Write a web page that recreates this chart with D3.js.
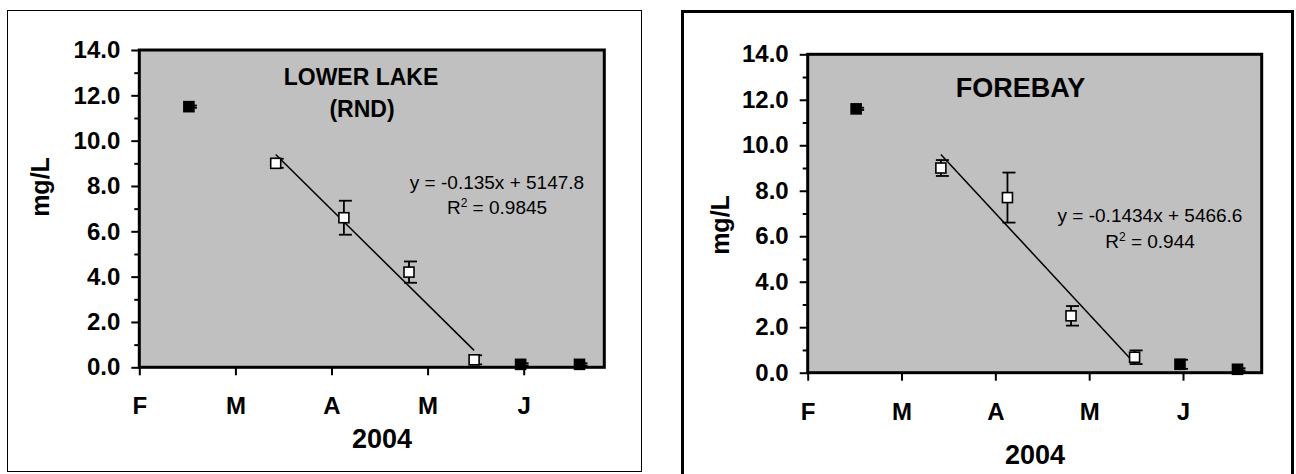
<!DOCTYPE html>
<html>
<head>
<meta charset="utf-8">
<script src="https://cdn.jsdelivr.net/npm/d3@7"></script>
<style>
  body { margin: 0; background: #fff; }
  svg { display: block; }
  text { font-family: Arial, "Liberation Sans", sans-serif; fill: #000; }
</style>
</head>
<body>
<svg id="chart" width="1296" height="474"></svg>
<script>
// Sampling dates (2004)
const sampleDates = ["2004-02-17", "2004-03-16", "2004-04-07", "2004-04-28", "2004-05-19", "2004-06-03", "2004-06-22"];
// Concentrations, mg/L, and their error-bar half widths
const lowerLakeValues = [11.5, 9.0, 6.6, 4.2, 0.33, 0.13, 0.13];
const lowerLakeErrors = [0.05, 0.2, 0.75, 0.47, 0.2, 0.05, 0.05];
const forebayValues = [11.6, 9.0, 7.7, 2.5, 0.68, 0.37, 0.15];
const forebayErrors = [0.05, 0.35, 1.1, 0.43, 0.3, 0.2, 0.05];
// Which samples belong to the fitted decline (open markers)
const inTrend = [false, true, true, true, true, false, false];
// Fitted slopes, mg/L per day
const lowerLakeSlope = -0.135;
const forebaySlope = -0.1434;
const lowerLakeEquation = ["y = -0.135x + 5147.8", "0.9845"];
const forebayEquation = ["y = -0.1434x + 5466.6", "0.944"];

// Axis definitions
const axisRange = ["2004-02-01", "2004-06-30"];
const monthTicks = ["2004-02-01", "2004-03-03", "2004-04-03", "2004-05-04", "2004-06-04"];
const monthLabels = ["F", "M", "A", "M", "J"];
const yTicks = [0, 2, 4, 6, 8, 10, 12, 14];
const yMinorTicks = [1, 3, 5, 7, 9, 11, 13];
const yAxisTitle = "mg/L";
const xAxisTitle = "2004";

const parse = d3.utcParse("%Y-%m-%d");
const svg = d3.select("#chart");
const FONT = "Arial, 'Liberation Sans', sans-serif";

function drawPanel(cfg) {
  const g = svg.append("g");

  // outer chart frame
  g.append("rect")
    .attr("x", cfg.frame.x).attr("y", cfg.frame.y)
    .attr("width", cfg.frame.w).attr("height", cfg.frame.h)
    .attr("fill", "#fff").attr("stroke", "#000")
    .attr("stroke-width", cfg.frame.sw);

  const p = cfg.plot;
  const x = d3.scaleUtc().domain(axisRange.map(parse)).range([p.l, p.r]);
  const y = d3.scaleLinear().domain([0, 14]).range([p.b, p.t]);

  // plot area
  g.append("rect")
    .attr("x", p.l).attr("y", p.t)
    .attr("width", p.r - p.l).attr("height", p.b - p.t)
    .attr("fill", "#c0c0c0");

  // y axis: major ticks with labels, minor ticks
  const yAxis = g.append("g").attr("transform", `translate(${p.l},0)`)
    .call(d3.axisLeft(y).tickValues(yTicks).tickSize(8).tickPadding(11)
      .tickFormat(d3.format(".1f")));
  yAxis.select(".domain").remove();
  yAxis.selectAll("line").attr("stroke", "#000").attr("stroke-width", 2);
  yAxis.selectAll("text")
    .attr("font-family", FONT)
    .attr("font-size", 24).attr("font-weight", "bold").attr("fill", "#000");

  const yMinor = g.append("g").attr("transform", `translate(${p.l},0)`)
    .call(d3.axisLeft(y).tickValues(yMinorTicks).tickSize(5).tickFormat(""));
  yMinor.select(".domain").remove();
  yMinor.selectAll("line").attr("stroke", "#000").attr("stroke-width", 2);

  // x axis: month ticks
  const xAxis = g.append("g").attr("transform", `translate(0,${p.b})`)
    .call(d3.axisBottom(x).tickValues(monthTicks.map(parse)).tickSize(8)
      .tickPadding(0).tickFormat((d, i) => monthLabels[i]));
  xAxis.select(".domain").remove();
  xAxis.selectAll("line").attr("stroke", "#000").attr("stroke-width", 2);
  xAxis.selectAll("text")
    .attr("font-family", FONT)
    .attr("font-size", 24).attr("font-weight", "bold").attr("fill", "#000")
    .attr("dy", null).attr("y", 47);

  // plot area border
  g.append("rect")
    .attr("x", p.l).attr("y", p.t)
    .attr("width", p.r - p.l).attr("height", p.b - p.t)
    .attr("fill", "none").attr("stroke", "#000").attr("stroke-width", 3);

  // titles
  g.append("text")
    .attr("transform", `translate(${cfg.yTitle.x},${cfg.yTitle.y}) rotate(-90)`)
    .attr("text-anchor", "middle").attr("dy", "0.35em")
    .attr("font-size", 25).attr("font-weight", "bold").text(yAxisTitle);
  g.append("text")
    .attr("x", cfg.xTitle.x).attr("y", cfg.xTitle.y)
    .attr("text-anchor", "middle")
    .attr("font-size", 27).attr("font-weight", "bold").text(xAxisTitle);
  cfg.title.forEach(t => {
    g.append("text").attr("x", t.x).attr("y", t.y)
      .attr("text-anchor", "middle")
      .attr("font-size", t.size).attr("font-weight", "bold").text(t.text);
  });

  // trend line: stated slope through the centroid of the fitted samples
  const dates = sampleDates.map(parse);
  const day = d => (d - dates[0]) / 864e5;
  const trendIdx = inTrend.map((v, i) => v ? i : -1).filter(i => i >= 0);
  const mx = d3.mean(trendIdx, i => day(dates[i]));
  const my = d3.mean(trendIdx, i => cfg.values[i]);
  const trendAt = d => my + cfg.slope * (day(d) - mx);
  const d0 = dates[trendIdx[0]], d1 = dates[trendIdx[trendIdx.length - 1]];
  g.append("line")
    .attr("x1", x(d0)).attr("y1", y(trendAt(d0)))
    .attr("x2", x(d1)).attr("y2", y(trendAt(d1)))
    .attr("stroke", "#000").attr("stroke-width", 1.5);

  // error bars
  const eb = g.append("g").attr("stroke", "#000").attr("stroke-width", 1.8);
  dates.forEach((d, i) => {
    const cx = x(d), v = cfg.values[i], e = cfg.errors[i];
    eb.append("line").attr("x1", cx).attr("x2", cx)
      .attr("y1", y(v + e)).attr("y2", y(v - e));
    [v + e, v - e].forEach(c => {
      eb.append("line").attr("x1", cx - 5).attr("x2", cx + 8)
        .attr("y1", y(c)).attr("y2", y(c));
    });
  });

  // markers
  const s = 10;
  g.selectAll("rect.marker").data(dates).join("rect")
    .attr("class", "marker")
    .attr("x", d => x(d) - s / 2)
    .attr("y", (d, i) => y(cfg.values[i]) - s / 2)
    .attr("width", s).attr("height", s)
    .attr("fill", (d, i) => inTrend[i] ? "#fff" : "#000")
    .attr("stroke", "#000").attr("stroke-width", 1.6);

  // regression equation
  g.append("text").attr("text-anchor", "middle").attr("font-size", 19)
    .attr("x", cfg.eq.x).attr("y", cfg.eq.y1).text(cfg.equation[0]);
  const r2 = g.append("text").attr("text-anchor", "middle").attr("font-size", 19)
    .attr("x", cfg.eq.x).attr("y", cfg.eq.y2);
  r2.append("tspan").text("R");
  r2.append("tspan").attr("font-size", 12).attr("dy", -7).text("2");
  r2.append("tspan").attr("dy", 7).text(" = " + cfg.equation[1]);
}

drawPanel({
  frame: { x: 7.5, y: 10.5, w: 634, h: 461, sw: 1 },
  plot: { l: 139.3, t: 50, r: 604.3, b: 367.3 },
  yTitle: { x: 40, y: 187 },
  xTitle: { x: 382, y: 448 },
  title: [{ text: "LOWER LAKE", x: 361, y: 85, size: 23 },
          { text: "(RND)", x: 362, y: 117, size: 23 }],
  values: lowerLakeValues, errors: lowerLakeErrors,
  slope: lowerLakeSlope, equation: lowerLakeEquation,
  eq: { x: 497, y1: 189, y2: 214 }
});

drawPanel({
  frame: { x: 682.5, y: 11.5, w: 610, h: 480, sw: 3 },
  plot: { l: 807.7, t: 54.3, r: 1261.7, b: 372.7 },
  yTitle: { x: 720, y: 225 },
  xTitle: { x: 1035, y: 464 },
  title: [{ text: "FOREBAY", x: 1020.6, y: 97, size: 27 }],
  values: forebayValues, errors: forebayErrors,
  slope: forebaySlope, equation: forebayEquation,
  eq: { x: 1150, y1: 221.7, y2: 248.3 }
});
</script>
</body>
</html>
